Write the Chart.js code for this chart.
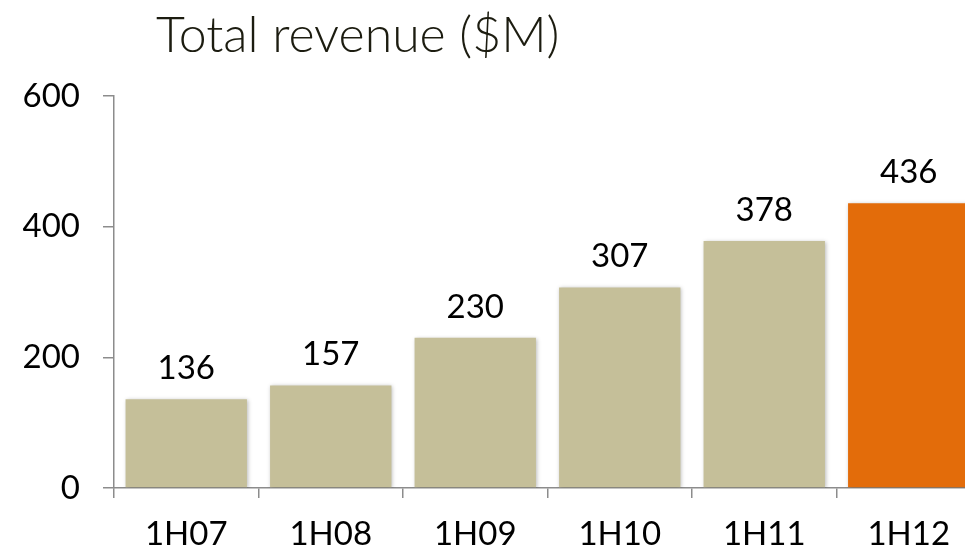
<!DOCTYPE html>
<html>
<head>
<meta charset="utf-8">
<script src="https://cdn.jsdelivr.net/npm/chart.js@4/dist/chart.umd.min.js"></script>
<style>
  html, body { margin: 0; padding: 0; overflow: hidden; background: #ffffff; }
  #wrap { position: relative; width: 985px; height: 556px; }
</style>
</head>
<body>
<div id="wrap"><canvas id="c"></canvas></div>
<script>
const titleText = 'Total revenue ($M)';
const categories = ['1H07', '1H08', '1H09', '1H10', '1H11', '1H12'];
const revenue = [136, 157, 230, 307, 378, 436];
const yMin = 0, yMax = 600, yStep = 200;

const FONT = 'Lato, "Open Sans", "DejaVu Sans", sans-serif';
const beige = '#C5BF99';
const orange = '#E36C0A';
const axisGray = '#8C8C8C';

const titlePlugin = {
  id: 'topTitle',
  afterDraw(chart) {
    const ctx = chart.ctx;
    ctx.save();
    ctx.font = '300 50px ' + FONT;
    ctx.fillStyle = '#1C1C10';
    ctx.textAlign = 'left';
    ctx.textBaseline = 'middle';
    ctx.fillText(titleText, 156, 36);
    ctx.restore();
  }
};

const shadowPlugin = {
  id: 'barShadow',
  beforeDatasetDraw(chart) {
    const ctx = chart.ctx;
    ctx.save();
    ctx.shadowColor = 'rgba(0,0,0,0.28)';
    ctx.shadowBlur = 4;
    ctx.shadowOffsetX = 1;
    ctx.shadowOffsetY = 1;
  },
  afterDatasetDraw(chart) {
    chart.ctx.restore();
  }
};

const valueLabels = {
  id: 'valueLabels',
  afterDatasetsDraw(chart) {
    const ctx = chart.ctx;
    const meta = chart.getDatasetMeta(0);
    ctx.save();
    ctx.font = '33px ' + FONT;
    ctx.fillStyle = '#000000';
    ctx.textAlign = 'center';
    ctx.textBaseline = 'alphabetic';
    meta.data.forEach((bar, i) => {
      ctx.fillText(String(revenue[i]), bar.x, bar.y - 20);
    });
    ctx.restore();
  }
};

new Chart(document.getElementById('c'), {
  type: 'bar',
  data: {
    labels: categories,
    datasets: [{
      data: revenue,
      backgroundColor: categories.map((c, i) => i === categories.length - 1 ? orange : beige),
      borderWidth: 0,
      categoryPercentage: 1.0,
      barPercentage: 0.84
    }]
  },
  options: {
    responsive: true,
    maintainAspectRatio: false,
    animation: false,
    devicePixelRatio: 1,
    layout: { padding: { top: 96, right: 4, bottom: 0, left: 0 } },
    plugins: {
      legend: { display: false },
      title: { display: false },
      tooltip: { enabled: false }
    },
    scales: {
      x: {
        offset: true,
        grid: {
          offset: true,
          drawOnChartArea: false,
          drawTicks: true,
          tickLength: 10,
          color: axisGray,
          lineWidth: 1.5
        },
        border: { color: axisGray, width: 1.5 },
        ticks: {
          color: '#000000',
          font: { family: FONT, size: 33 },
          padding: 17,
          maxRotation: 0,
          autoSkip: false
        },
        afterFit(scale) { scale.height = 68; }
      },
      y: {
        min: yMin,
        max: yMax,
        grid: {
          drawOnChartArea: false,
          drawTicks: true,
          tickLength: 11,
          color: axisGray,
          lineWidth: 1.5
        },
        border: { color: axisGray, width: 1.5 },
        ticks: {
          stepSize: yStep,
          color: '#000000',
          font: { family: FONT, size: 33 },
          padding: 23
        },
        afterFit(scale) { scale.width = 114; }
      }
    }
  },
  plugins: [titlePlugin, shadowPlugin, valueLabels]
});
</script>
</body>
</html>
